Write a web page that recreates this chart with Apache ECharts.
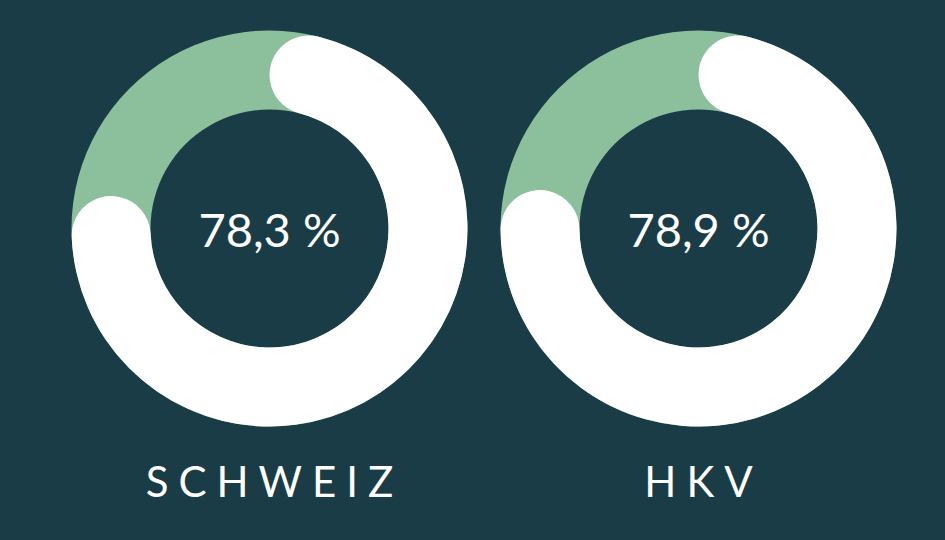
<!DOCTYPE html>
<html>
<head>
<meta charset="utf-8">
<script src="https://cdn.jsdelivr.net/npm/echarts@6/dist/echarts.min.js"></script>
<style>
  html, body { margin: 0; padding: 0; background: #1a3c46; }
  #main { width: 945px; height: 540px; }
</style>
</head>
<body>
<div id="main"></div>
<script>
// data
var names = ['SCHWEIZ', 'HKV'];
var shares = [78.3, 78.9];

var centersX = [269.5, 698.5];
var centerY = 228.5;
var labelY = 481;
var spacing = 10;

function fmt(v) {
  return v.toFixed(1).replace('.', ',') + ' %';
}

var series = [];
var graphics = [];
names.forEach(function (name, i) {
  // green full ring behind
  series.push({
    type: 'pie',
    silent: true,
    center: [centersX[i], centerY],
    radius: [119, 198],
    label: { show: false },
    labelLine: { show: false },
    itemStyle: { color: '#8cbf9c' },
    data: [{ value: 100, name: name + '-bg' }]
  });
  // white progress arc
  series.push({
    type: 'pie',
    silent: true,
    startAngle: 90,
    clockwise: true,
    center: [centersX[i], centerY],
    radius: [119, 198],
    label: { show: false },
    labelLine: { show: false },
    data: [
      {
        value: shares[i],
        name: name,
        itemStyle: { color: '#ffffff', borderRadius: 40 },
        label: {
          show: true,
          position: 'center',
          formatter: fmt(shares[i]),
          color: '#ffffff',
          fontFamily: 'Lato',
          fontSize: 47,
          fontWeight: 'normal'
        }
      },
      {
        value: 100 - shares[i],
        name: name + '-rest',
        itemStyle: { color: 'rgba(0,0,0,0)' }
      }
    ]
  });
  graphics.push({
    type: 'text',
    x: centersX[i],
    y: labelY,
    style: {
      text: name,
      fill: '#ffffff',
      font: 'normal 42px Lato',
      align: 'center',
      verticalAlign: 'middle'
    }
  });
});

var chart = echarts.init(document.getElementById('main'), null, { renderer: 'svg' });
chart.setOption({
  backgroundColor: '#1a3c46',
  animation: false,
  series: series,
  graphic: graphics
});

// wide letter spacing of the names
chart.getDom().querySelectorAll('text').forEach(function (t) {
  if (names.indexOf(t.textContent) >= 0) {
    t.style.letterSpacing = spacing + 'px';
    t.setAttribute('dx', spacing / 2);
  }
});
</script>
</body>
</html>
